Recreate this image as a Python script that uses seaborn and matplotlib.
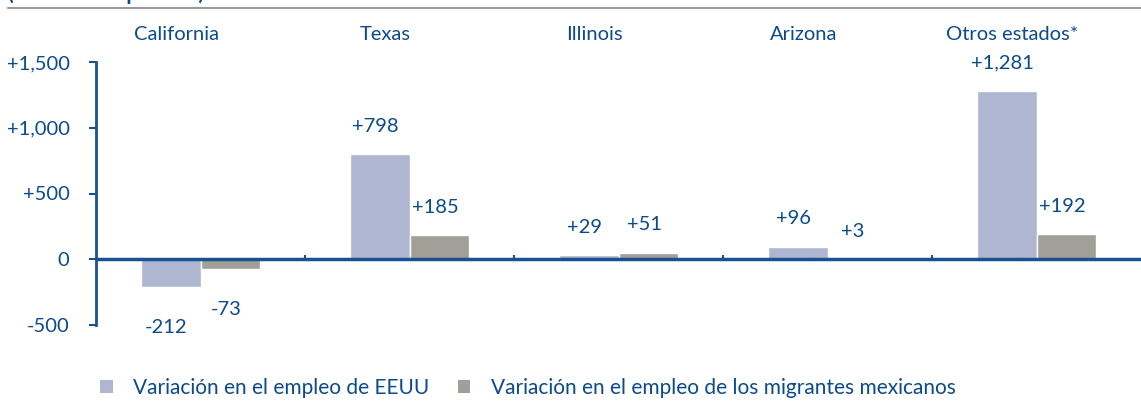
import matplotlib
matplotlib.use("Agg")
import matplotlib.pyplot as plt
import matplotlib.transforms as mtransforms
from matplotlib.lines import Line2D
from matplotlib.patches import Patch
from matplotlib.ticker import FuncFormatter
import numpy as np
import pandas as pd
import seaborn as sns

# Data (miles de empleados)
states = ["California", "Texas", "Illinois", "Arizona", "Otros estados*"]
var_eeuu = [-212, 798, 29, 96, 1281]
var_mex = [-73, 185, 51, 3, 192]
series_names = ["Variación en el empleo de EEUU",
                "Variación en el empleo de los migrantes mexicanos"]
y_ticks = [-500, 0, 500, 1000, 1500]

BLUE = "#0B4A8B"
AXIS = "#1B5190"
COLORS = ["#AEB6D2", "#A09F98"]
FS = 14.5

sns.set_theme(style="white")
plt.rcParams["font.family"] = ["Lato", "DejaVu Sans"]

df = pd.DataFrame({
    "estado": states * 2,
    "valor": var_eeuu + var_mex,
    "serie": [series_names[0]] * len(states) + [series_names[1]] * len(states),
})

fig = plt.figure(figsize=(11.41, 4.04), dpi=100)
ax = fig.add_axes([96 / 1141, 79 / 404, 1 - 96 / 1141, 263 / 404])

sns.barplot(data=df, x="estado", y="valor", hue="serie", palette=COLORS,
            width=0.57, saturation=1, legend=False, ax=ax)

ax.set_ylim(-500, 1500)
ax.set_xlim(-0.5, len(states) - 0.5)
ax.set_xlabel("")
ax.set_ylabel("")

# y axis
ax.set_yticks(y_ticks)
ax.yaxis.set_major_formatter(FuncFormatter(lambda v, p: "0" if v == 0 else f"{v:+,.0f}"))
ax.tick_params(axis="y", left=True, length=5, width=1.5, color=AXIS, pad=14,
               labelsize=FS, labelcolor=BLUE)

# category labels on top
ax.xaxis.tick_top()
ax.tick_params(axis="x", top=False, bottom=False, pad=7.5, labelsize=FS, labelcolor=BLUE)
shift = mtransforms.ScaledTranslation(-24 / 100, 0, fig.dpi_scale_trans)
for lbl in ax.get_xticklabels():
    lbl.set_transform(lbl.get_transform() + shift)

for side in ["top", "right", "bottom"]:
    ax.spines[side].set_visible(False)
ax.spines["left"].set_color(AXIS)
ax.spines["left"].set_linewidth(2)

# zero line and category separators
ax.axhline(0, color=AXIS, lw=2.5, zorder=3)
ax.vlines(np.arange(len(states) - 1) + 0.5, 0, 35, color=AXIS, lw=1.5, zorder=3)

# value labels
for cont in ax.containers:
    for bar in cont:
        v = bar.get_height()
        if bar.get_y() < 0:
            v = bar.get_y()
        x = bar.get_x() + bar.get_width() / 2
        off = 20 if v >= 0 else -29
        ax.annotate(f"{int(round(v)):+,}", (x, v), xytext=(-3, off),
                    textcoords="offset points", ha="center", va="center",
                    fontsize=FS, color=BLUE)

# header remnants
fig.text(8 / 1141, 1.0, "(Miles de empleados)", ha="left", va="baseline",
         fontsize=15, fontweight="bold", color=BLUE)
fig.add_artist(Line2D([8 / 1141, 1], [1 - 8 / 404] * 2, transform=fig.transFigure,
                      color="#9A9A9A", lw=1.5))

handles = [Patch(facecolor=c, edgecolor="none") for c in COLORS]
fig.legend(handles, series_names, loc="center", bbox_to_anchor=(528 / 1141, 0.04),
           ncol=2, frameon=False, handlelength=0.6, handleheight=0.6,
           columnspacing=1.35, handletextpad=1.0, fontsize=15, labelcolor=BLUE)

fig.savefig("out.png", dpi=100)
